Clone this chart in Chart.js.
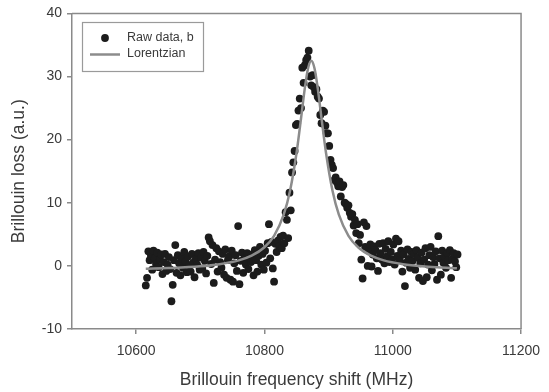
<!DOCTYPE html>
<html>
<head>
<meta charset="utf-8">
<script src="https://cdn.jsdelivr.net/npm/chart.js@4.4.1/dist/chart.umd.min.js"></script>
<style>
  html, body { margin: 0; padding: 0; background: #ffffff; }
  #wrap { width: 549px; height: 392px; }
</style>
</head>
<body>
<div id="wrap"><canvas id="c" width="549" height="392"></canvas></div>
<script>
// ---- data ----
const rawFreq = [
  10615,10617,10619,10621,10623,10625,10627,10629,10631,10633,
  10635,10637,10639,10641,10643,10645,10647,10649,10651,10653,
  10655,10657,10659,10661,10663,10665,10667,10669,10671,10673,
  10675,10677,10679,10681,10683,10685,10687,10689,10691,10693,
  10695,10697,10699,10701,10703,10705,10707,10709,10711,10713,
  10715,10717,10719,10721,10723,10725,10727,10729,10731,10733,
  10735,10737,10739,10741,10743,10745,10747,10749,10751,10753,
  10755,10757,10759,10761,10763,10765,10767,10769,10771,10773,
  10775,10777,10779,10781,10783,10785,10787,10789,10791,10793,
  10795,10797,10799,10801,10803,10805,10807,10809,10811,10813,
  10815,10817,10819,10821,10823,10825,10827,10829,10831,10833,
  10835,10837,10839,10841,10843,10845,10847,10849,10851,10853,
  10855,10857,10859,10861,10863,10865,10867,10869,10871,10873,
  10875,10877,10879,10881,10883,10885,10887,10889,10891,10893,
  10895,10897,10899,10901,10903,10905,10907,10909,10911,10913,
  10915,10917,10919,10921,10923,10925,10927,10929,10931,10933,
  10935,10937,10939,10941,10943,10945,10947,10949,10951,10953,
  10955,10957,10959,10961,10963,10965,10967,10969,10971,10973,
  10975,10977,10979,10981,10983,10985,10987,10989,10991,10993,
  10995,10997,10999,11001,11003,11005,11007,11009,11011,11013,
  11015,11017,11019,11021,11023,11025,11027,11029,11031,11033,
  11035,11037,11039,11041,11043,11045,11047,11049,11051,11053,
  11055,11057,11059,11061,11063,11065,11067,11069,11071,11073,
  11075,11077,11079,11081,11083,11085,11087,11089,11091,11093,
  11095,11097,11099,11101
];
const rawLoss = [
  -3.1,-1.9,2.3,0.9,1.6,-0.6,2.4,1.2,0.3,2.1,
  -0.2,1.0,1.8,-1.3,0.6,1.9,-0.8,0.2,1.4,-0.5,
  -5.6,-3.0,0.9,3.3,-1.1,1.7,0.4,-1.5,1.2,-0.3,
  2.2,0.7,-1.0,1.5,0.1,-0.9,1.9,0.5,-1.8,1.1,
  0.2,2.0,-0.6,1.3,-0.4,2.2,0.8,-1.2,1.6,4.5,
  3.9,0.3,3.3,-2.7,1.0,2.8,-0.9,2.3,0.6,-0.3,
  1.9,-1.4,2.6,-1.9,0.9,1.5,-2.2,2.4,-2.5,0.4,
  1.7,-0.8,6.3,-2.9,0.8,2.1,-1.1,1.3,0.2,2.0,
  -0.5,1.1,0.6,1.8,-1.5,2.5,0.9,-0.9,1.6,3.0,
  0.2,1.9,-0.6,2.4,0.5,3.6,6.6,1.2,3.8,-0.4,
  -2.5,3.5,2.2,4.0,3.1,4.6,2.8,4.8,3.6,8.5,
  7.3,4.4,11.6,8.8,14.8,16.4,18.2,22.3,22.5,24.6,
  26.5,25.0,31.4,29.0,31.8,32.6,33.0,34.1,30.0,28.6,
  30.2,28.3,27.6,28.0,26.8,26.5,23.9,22.6,24.6,24.4,
  22.2,21.0,21.0,19.0,16.8,16.0,15.5,13.6,14.0,13.2,
  12.6,13.4,11.0,12.5,12.8,10.0,9.8,9.2,9.6,8.4,
  7.8,8.2,6.4,7.3,5.2,6.6,3.6,4.9,1.0,-2.0,
  6.9,3.0,6.3,0.0,2.4,3.4,-0.1,1.8,3.1,2.5,
  1.2,-0.8,3.5,2.0,1.0,3.6,0.4,2.7,1.5,3.9,
  0.6,2.2,1.0,3.4,0.2,4.3,1.6,3.9,0.9,2.4,
  -0.9,1.8,-3.2,0.5,2.6,1.1,-0.3,2.2,0.8,1.9,
  -0.6,2.5,1.3,-1.9,0.4,2.1,-2.4,1.0,2.8,-1.8,
  0.2,1.7,3.0,-0.7,1.4,0.3,2.3,-2.2,4.7,1.2,
  -1.4,2.4,0.5,1.5,-0.3,2.0,0.9,2.5,-1.9,1.1,
  2.0,0.7,-0.2,1.8
];
const fitFreq = [10615,10650,10700,10730,10760,10780,10800,10815,10830,10840,10850,10857,10863,10868,10873,10878,10883,10889,10896,10906,10916,10931,10946,10966,10986,11016,11046,11070,11100];
const fitLoss = [-0.47,-0.35,-0.07,0.27,0.87,1.61,2.95,4.77,8.12,11.96,17.88,23.35,28.2,31.31,32.5,31.31,28.2,23.35,17.88,11.96,8.12,4.77,2.95,1.61,0.87,0.27,-0.07,-0.23,-0.37];
const xTickValues = [10600, 10800, 11000, 11200];
const yTickValues = [-10, 0, 10, 20, 30, 40];
const seriesNames = ['Raw data, b', 'Lorentzian'];
const xTitle = 'Brillouin frequency shift (MHz)';
const yTitle = 'Brillouin loss (a.u.)';

// ---- styling ----
const FONT = "'Liberation Sans', Arial, sans-serif";
const AXIS_COLOR = '#8a8a8a';
const TEXT_COLOR = '#3a3a3a';
const DOT_COLOR = '#1c1c1c';
const LINE_COLOR = '#8c8c8c';

const rawPoints = rawFreq.map((f, i) => ({ x: f, y: rawLoss[i] }));
const fitPoints = fitFreq.map((f, i) => ({ x: f, y: fitLoss[i] }));

const frameAndLegend = {
  id: 'frameAndLegend',
  afterDatasetsDraw(chart) {
    const { ctx, chartArea: a } = chart;
    ctx.save();
    ctx.strokeStyle = AXIS_COLOR;
    ctx.lineWidth = 1.5;
    ctx.beginPath();
    ctx.moveTo(a.left, a.top);
    ctx.lineTo(a.right, a.top);
    ctx.lineTo(a.right, a.bottom);
    ctx.stroke();

    // legend box inside plot
    const bx = 82, by = 22, bw = 121, bh = 49;
    ctx.fillStyle = '#ffffff';
    ctx.fillRect(bx, by, bw, bh);
    ctx.lineWidth = 1.2;
    ctx.strokeStyle = '#9a9a9a';
    ctx.strokeRect(bx + 0.5, by + 0.5, bw, bh);

    const ds0 = chart.data.datasets[0];
    const ds1 = chart.data.datasets[1];
    ctx.fillStyle = ds0.backgroundColor;
    ctx.beginPath();
    ctx.arc(105, 38, ds0.pointRadius, 0, Math.PI * 2);
    ctx.fill();

    ctx.strokeStyle = ds1.borderColor;
    ctx.lineWidth = ds1.borderWidth;
    ctx.beginPath();
    ctx.moveTo(90, 54.5);
    ctx.lineTo(120, 54.5);
    ctx.stroke();

    ctx.fillStyle = TEXT_COLOR;
    ctx.font = '12.5px ' + FONT;
    ctx.textBaseline = 'middle';
    ctx.textAlign = 'left';
    ctx.fillText(ds0.label, 127, 38);
    ctx.fillText(ds1.label, 127, 54);
    ctx.restore();
  }
};

new Chart(document.getElementById('c'), {
  type: 'scatter',
  data: {
    datasets: [
      {
        label: seriesNames[0],
        data: rawPoints,
        backgroundColor: DOT_COLOR,
        borderColor: DOT_COLOR,
        pointRadius: 3.9,
        pointBorderWidth: 0,
        showLine: false,
        order: 1
      },
      {
        label: seriesNames[1],
        data: fitPoints,
        type: 'line',
        borderColor: LINE_COLOR,
        backgroundColor: LINE_COLOR,
        borderWidth: 2.5,
        pointRadius: 0,
        fill: false,
        cubicInterpolationMode: 'monotone',
        order: 0
      }
    ]
  },
  options: {
    responsive: false,
    animation: false,
    devicePixelRatio: 1,
    layout: { padding: { top: 12, right: 20, left: 0, bottom: 0 } },
    plugins: {
      legend: { display: false },
      tooltip: { enabled: false }
    },
    scales: {
      x: {
        type: 'linear',
        min: 10500,
        max: 11200,
        afterBuildTicks: (s) => { s.ticks = xTickValues.map(v => ({ value: v })); },
        afterFit: (s) => { s.height = 63; },
        grid: { drawOnChartArea: false, drawTicks: true, tickLength: 5, color: AXIS_COLOR, lineWidth: 1.5 },
        border: { display: true, color: AXIS_COLOR, width: 1.5 },
        ticks: { color: TEXT_COLOR, font: { family: FONT, size: 14 }, padding: 9, maxRotation: 0, autoSkip: false, callback: (v) => String(v) },
        title: { display: true, text: xTitle, color: TEXT_COLOR, font: { family: FONT, size: 17.5 }, padding: { top: 2, bottom: 1.5 } }
      },
      y: {
        type: 'linear',
        min: -10,
        max: 40,
        afterBuildTicks: (s) => { s.ticks = yTickValues.map(v => ({ value: v })); },
        afterFit: (s) => { s.width = 72; },
        grid: { drawOnChartArea: false, drawTicks: true, tickLength: 5, color: AXIS_COLOR, lineWidth: 1.5 },
        border: { display: true, color: AXIS_COLOR, width: 1.5 },
        ticks: { color: TEXT_COLOR, font: { family: FONT, size: 14 }, padding: 5, autoSkip: false, callback: (v) => String(v) },
        title: { display: true, text: yTitle, color: TEXT_COLOR, font: { family: FONT, size: 17.5 }, padding: { top: 9, bottom: 0 } }
      }
    }
  },
  plugins: [frameAndLegend]
});
</script>
</body>
</html>
